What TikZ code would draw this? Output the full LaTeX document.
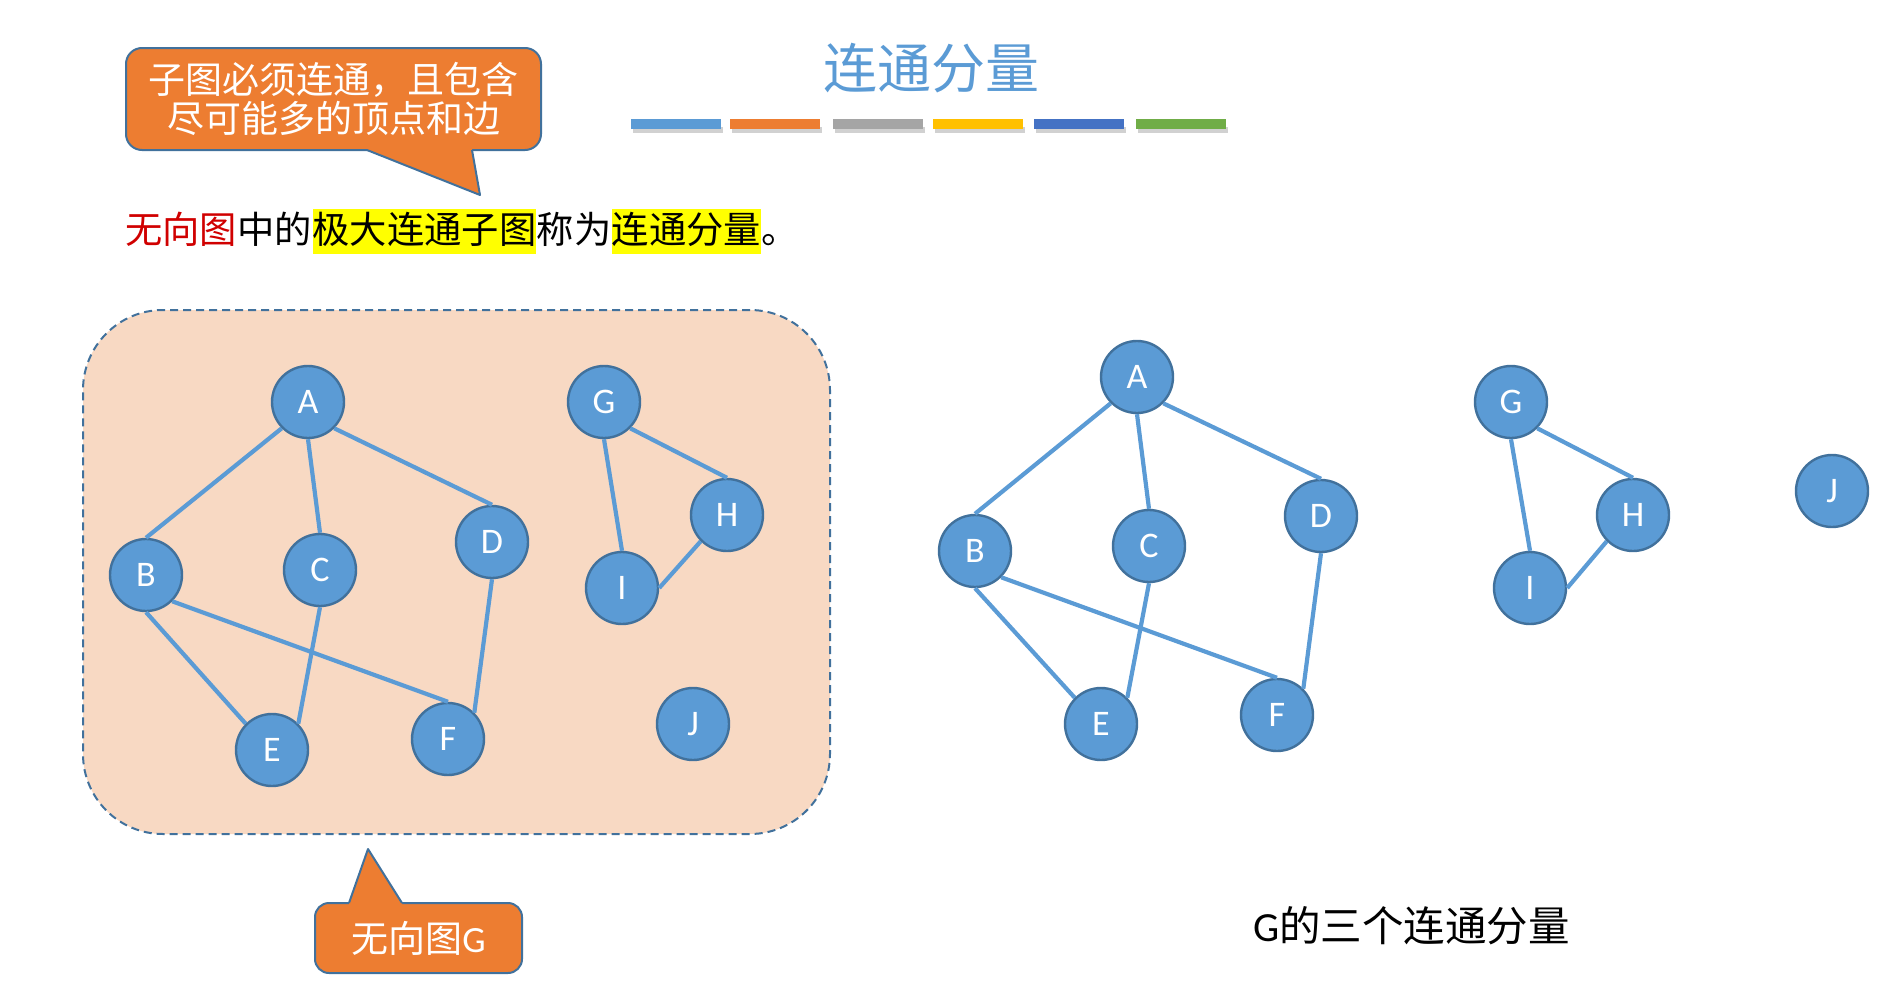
\documentclass[tikz,border=0pt]{standalone}
\usepackage{fontspec}
\setmainfont{Carlito}
\newfontfamily\cjk{Noto Sans CJK SC}
\definecolor{nodeblue}{HTML}{5B9BD5}
\definecolor{borderblue}{HTML}{41719C}
\definecolor{calloutorange}{HTML}{ED7D31}
\definecolor{peach}{HTML}{F8D9C3}
\definecolor{hlyellow}{HTML}{FFFF00}
\definecolor{redtext}{HTML}{D00000}
\definecolor{barA}{HTML}{5B9BD5}
\definecolor{barB}{HTML}{ED7D31}
\definecolor{barC}{HTML}{A5A5A5}
\definecolor{barD}{HTML}{FFC000}
\definecolor{barE}{HTML}{4472C4}
\definecolor{barF}{HTML}{70AD47}
\tikzset{
  vtx/.style={circle, fill=nodeblue, draw=borderblue, line width=2.4pt, minimum size=72pt, inner sep=0pt,
    text=white, font=\fontsize{36}{36}\selectfont},
  edge/.style={draw=nodeblue, line width=4.2pt},
  bar/.style={minimum width=90pt, minimum height=10pt, inner sep=0pt, draw=none},
  callout/.style={fill=calloutorange, draw=borderblue, line width=2pt, rounded corners=16pt, inner sep=0pt,
    text=white, align=center},
  seg/.style={anchor=west, inner xsep=0pt, inner ysep=0pt, minimum height=45pt, text height=31pt, text depth=6pt,
    font=\cjk\fontsize{37.3}{37.3}\selectfont},
}
\begin{document}
\begin{tikzpicture}[x=1pt,y=-1pt]
\useasboundingbox (0,0) rectangle (1887,993);

% title
\node[text=nodeblue, font=\cjk\fontsize{54}{54}\selectfont, inner sep=0pt] (title) at (931,68) {连通分量};

% colour bars
\foreach \x/\c [count=\i] in {676/barA,775/barB,878/barC,978/barD,1079/barE,1181/barF}{
  \fill[black, opacity=0.18] (\x-45+2,124+3) rectangle (\x+45+2,129+4);
  \node[bar, fill=\c] (bar\i) at (\x,124) {};
}

% top callout
\node[callout, minimum width=415pt, minimum height=102pt, font=\cjk\fontsize{37}{39}\selectfont] (c1) at (333.5,99) {子图必须连通，且包含\\尽可能多的顶点和边};
\fill[calloutorange] (367,145) -- (367,150) -- (480,195) -- (472,150) -- (472,145) -- cycle;
\coordinate (tip1) at (480,195);
\draw[borderblue, line width=2pt, line join=round] (367,150) -- (tip1) -- (472,150);

% sentence
\node[seg, text=redtext] (s1) at (125,231) {无向图};
\node[seg, text=black] (s2) at (s1.east) {中的};
\node[seg, text=black, fill=hlyellow] (s3) at (s2.east) {极大连通子图};
\node[seg, text=black] (s4) at (s3.east) {称为};
\node[seg, text=black, fill=hlyellow] (s5) at (s4.east) {连通分量};
\node[seg, text=black] (s6) at (s5.east) {。};

% background region of graph G
\node[fill=peach, draw=borderblue, line width=2pt, dashed, dash pattern=on 8pt off 5pt, rounded corners=80pt,
  minimum width=747pt, minimum height=524pt, inner sep=0pt] (region) at (456.5,572) {};

% left graph
\node[vtx] (A) at (308,402) {A};
\node[vtx] (B) at (146,575) {B};
\node[vtx] (C) at (320,570) {C};
\node[vtx] (D) at (492,542) {D};
\node[vtx] (E) at (272,750) {E};
\node[vtx] (F) at (448,739) {F};
\node[vtx] (G) at (604,402) {G};
\node[vtx] (H) at (727,515) {H};
\node[vtx] (I) at (622,588) {I};
\node[vtx] (J) at (693,724) {J};
\draw[edge] (A.south west) -- (B.north);
\draw[edge] (A.south) -- (C.north);
\draw[edge] (A.south east) -- (D.north);
\draw[edge] (B.south) -- (E.north west);
\draw[edge] (B.south east) -- (F.north);
\draw[edge] (C.south) -- (E.north east);
\draw[edge] (D.south) -- (F.north east);
\draw[edge] (G.south east) -- (H.north);
\draw[edge] (G.south) -- (I.north);
\draw[edge] (H.south west) -- (I.east);

% bottom callout
\node[callout, rounded corners=14pt, minimum width=207pt, minimum height=70pt, font=\cjk\fontsize{37}{37}\selectfont] (c2) at (418.5,938) {无向图{\fontspec{Carlito}G}};
\fill[calloutorange] (349,907) -- (349,903) -- (368,849) -- (402,903) -- (402,907) -- cycle;
\coordinate (tip2) at (368,849);
\draw[borderblue, line width=2pt, line join=round] (349,903) -- (tip2) -- (402,903);

% right graph
\node[vtx] (rA) at (1137,377) {A};
\node[vtx] (rB) at (975,551) {B};
\node[vtx] (rC) at (1149,546) {C};
\node[vtx] (rD) at (1321,516) {D};
\node[vtx] (rE) at (1101,724) {E};
\node[vtx] (rF) at (1277,715) {F};
\node[vtx] (rG) at (1511,402) {G};
\node[vtx] (rH) at (1633,515) {H};
\node[vtx] (rI) at (1530,588) {I};
\node[vtx] (rJ) at (1832,491) {J};
\draw[edge] (rA.south west) -- (rB.north);
\draw[edge] (rA.south) -- (rC.north);
\draw[edge] (rA.south east) -- (rD.north);
\draw[edge] (rB.south) -- (rE.north west);
\draw[edge] (rB.south east) -- (rF.north);
\draw[edge] (rC.south) -- (rE.north east);
\draw[edge] (rD.south) -- (rF.north east);
\draw[edge] (rG.south east) -- (rH.north);
\draw[edge] (rG.south) -- (rI.north);
\draw[edge] (rH.south west) -- (rI.east);

% caption
\node[anchor=west, inner sep=0pt, text=black] (cap) at (1253,926) {\fontsize{41.5}{41.5}\selectfont G{\cjk 的三个连通分量}};
\end{tikzpicture}
\end{document}
